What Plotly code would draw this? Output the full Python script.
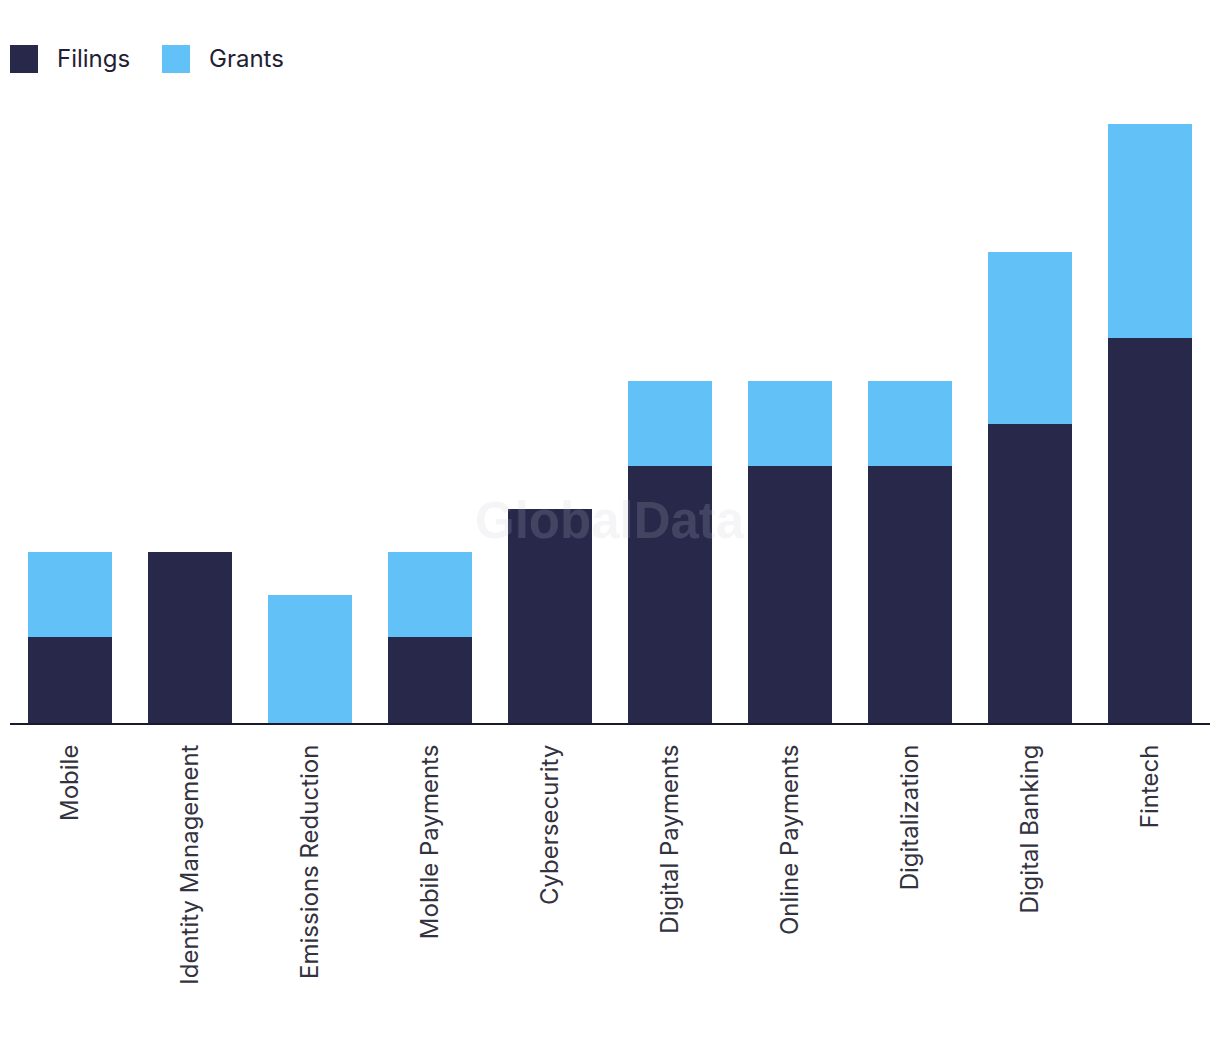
import plotly.graph_objects as go

categories = ["Mobile", "Identity Management", "Emissions Reduction", "Mobile Payments",
              "Cybersecurity", "Digital Payments", "Online Payments", "Digitalization",
              "Digital Banking", "Fintech"]
filings = [2, 4, 0, 2, 5, 6, 6, 6, 7, 9]
grants = [2, 0, 3, 2, 0, 2, 2, 2, 4, 5]

NAVY = "#27284A"
BLUE = "#62C1F7"
FONT = "Inter"

fig = go.Figure()
fig.add_trace(go.Bar(x=categories, y=filings, name="Filings", marker_color=NAVY,
                     marker_line_width=0, showlegend=False))
fig.add_trace(go.Bar(x=categories, y=grants, name="Grants", marker_color=BLUE,
                     marker_line_width=0, showlegend=False))

OFF = 8  # page body margin
W, H = 1212, 1030
L, R, T, B = 10 - OFF, 10, 100 - OFF, 315
pw, ph = W - L - R, H - T - B

def px_x(p):
    return (p - OFF - L) / pw

def px_y(p):
    return (H - B - (p - OFF)) / ph

shapes = []
annotations = []
for x0, tx, name, col in [(10, 55, "Filings", NAVY), (162, 207, "Grants", BLUE)]:
    shapes.append(dict(type="rect", xref="paper", yref="paper",
                       x0=px_x(x0), x1=px_x(x0 + 28), y0=px_y(73), y1=px_y(45),
                       fillcolor=col, line_width=0))
    annotations.append(dict(text=name, xref="paper", yref="paper", x=px_x(tx), y=px_y(59),
                            xanchor="left", yanchor="middle", showarrow=False,
                            font=dict(family=FONT, size=24, color="#1F2033")))

annotations.append(dict(text="<b>GlobalData</b>", xref="paper", yref="paper",
                        x=px_x(610), y=px_y(520), xanchor="center", yanchor="middle",
                        showarrow=False,
                        font=dict(family="Liberation Sans", size=51, color="rgba(200,200,210,0.18)")))

fig.update_layout(
    width=W, height=H,
    margin=dict(l=L, r=R, t=T, b=B),
    barmode="stack", bargap=0.3,
    plot_bgcolor="white", paper_bgcolor="white",
    shapes=shapes, annotations=annotations,
    font=dict(family=FONT),
)
fig.update_xaxes(showline=True, linecolor="#1A1A2E", linewidth=2, showgrid=False,
                 tickangle=-90, tickfont=dict(family=FONT, size=24, color="#333340"),
                 ticks="", ticklabelstandoff=10, range=[-0.5, 9.5])
fig.update_yaxes(visible=False, range=[0, 14 * 623 / 599], showgrid=False)

fig.write_html("out.html")
